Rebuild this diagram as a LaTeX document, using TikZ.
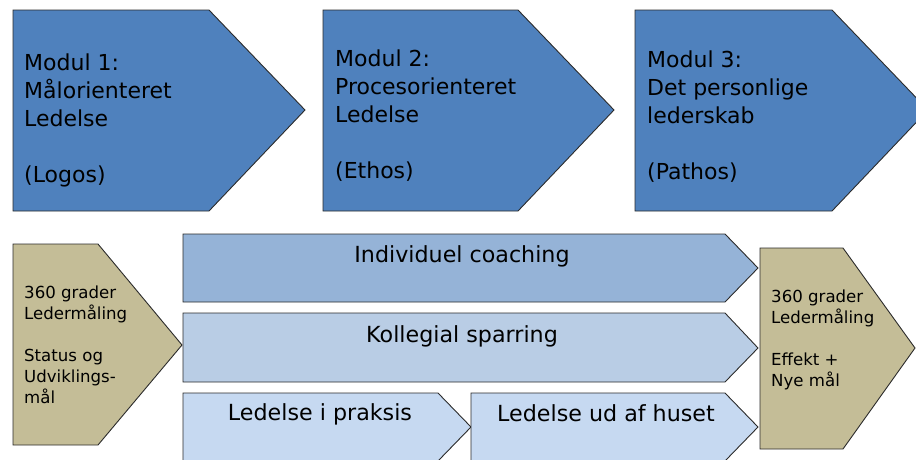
\documentclass[tikz,border=0pt]{standalone}
\usepackage{fontspec}
\setmainfont{DejaVu Sans}
\definecolor{modblue}{HTML}{4F81BD}
\definecolor{barA}{HTML}{95B3D7}
\definecolor{barB}{HTML}{B9CDE5}
\definecolor{barC}{HTML}{C6D9F1}
\definecolor{tan}{HTML}{C4BD97}
\definecolor{edge}{HTML}{2B2B2B}
\begin{document}
\begin{tikzpicture}[x=1pt,y=-1pt,
  shp/.style={draw=edge, line width=0.9pt, line join=miter},
  bigtxt/.style={anchor=base west, align=left, inner sep=0pt, font=\fontsize{22}{28}\selectfont},
  smalltxt/.style={anchor=base west, align=left, inner sep=0pt, font=\fontsize{16.6}{21}\selectfont},
  bartxt/.style={anchor=base, inner sep=0pt, font=\fontsize{22.2}{28}\selectfont}]
\useasboundingbox (0,0) rectangle (916,459);
\clip (0,0) rectangle (916,459);
% top modules
\draw[shp, fill=modblue] (13,10) -- (209,10) -- (305,110) -- (209,211) -- (13,211) -- cycle;
\draw[shp, fill=modblue] (323,10) -- (518,10) -- (614,110) -- (518,211) -- (323,211) -- cycle;
\draw[shp, fill=modblue] (635,10) -- (832,10) -- (928,110) -- (832,211) -- (635,211) -- cycle;
% (base anchor of a multi-line node = baseline of its last line)
\node[bigtxt] (m1) at (24,182) {Modul 1:\\Målorienteret\\Ledelse\\[28pt](Logos)};
\node[bigtxt] (m2) at (335,178) {Modul 2:\\Procesorienteret\\Ledelse\\[28pt](Ethos)};
\node[bigtxt] (m3) at (647,179) {Modul 3:\\Det personlige\\lederskab\\[28pt](Pathos)};
% left tan
\draw[shp, fill=tan] (13,244) -- (98,244) -- (182,345) -- (98,445) -- (13,445) -- cycle;
\node[smalltxt] (l1) at (24,403) {360 grader\\Ledermåling\\[21pt]Status og\\Udviklings-\\mål};
% bars
\draw[shp, fill=barA] (183,234) -- (725,234) -- (758,268) -- (725,302) -- (183,302) -- cycle;
\draw[shp, fill=barB] (183,313) -- (725,313) -- (758,348) -- (725,382) -- (183,382) -- cycle;
\draw[shp, fill=barC] (183,393) -- (438,393) -- (471,427) -- (438,461) -- (183,461) -- cycle;
\draw[shp, fill=barC] (471,393) -- (725,393) -- (758,427) -- (725,461) -- (471,461) -- cycle;
\node[bartxt] (b1) at (462,262) {Individuel coaching};
\node[bartxt] (b2) at (462,342) {Kollegial sparring};
\node[bartxt] (b3) at (320,420) {Ledelse i praksis};
\node[bartxt] (b4) at (606,421) {Ledelse ud af huset};
% right tan
\draw[shp, fill=tan] (760,248) -- (843,248) -- (915,348) -- (843,449) -- (760,449) -- cycle;
\node[smalltxt] (r1) at (771,386) {360 grader\\Ledermåling\\[21pt]Effekt +\\Nye mål};
\end{tikzpicture}
\end{document}
